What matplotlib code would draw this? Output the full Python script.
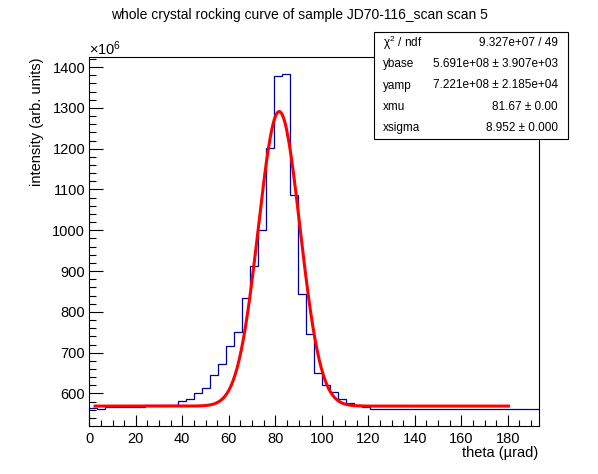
import numpy as np
import matplotlib
matplotlib.use("Agg")
import matplotlib.pyplot as plt
from matplotlib.patches import Rectangle
from matplotlib.ticker import MultipleLocator

plt.rcParams['font.family'] = ['Liberation Sans', 'DejaVu Sans']
plt.rcParams['mathtext.fontset'] = 'custom'
plt.rcParams['mathtext.rm'] = 'Liberation Sans'
plt.rcParams['mathtext.it'] = 'Liberation Sans'

# ---- data ----
bin_width = 3.45
n_bins = 56
counts = [564.7, 562.2, 565.7, 565.7, 568.0, 568.0, 568.0, 570.6, 570.6, 572.0,
          572.0, 580.4, 587.7, 600.7, 612.3, 644.9, 671.8, 716.0, 749.5, 832.9,
          912.8, 1001.0, 1200.6, 1378.0, 1382.5, 1085.4, 845.0, 747.0, 649.0, 622.0,
          603.0, 586.8, 577.0, 570.6, 565.7, 561.5, 560.8, 560.8, 560.8, 560.8,
          560.8, 560.8, 560.8, 560.8, 560.8, 560.8, 560.8, 560.8, 560.8, 560.8,
          560.8, 560.8, 560.8, 560.8, 560.8, 563.0]
# fit parameters (from stats box), in units of 1e6
ybase = 569.1
yamp = 722.1
xmu = 81.67
xsigma = 8.952
fit_range = (2.5, 180.3)

stats_rows = [("χ$^{2}$ / ndf", "9.327e+07 / 49"),
              ("ybase", "5.691e+08 ± 3.907e+03"),
              ("yamp", "7.221e+08 ± 2.185e+04"),
              ("xmu", "81.67 ± 0.00"),
              ("xsigma", "8.952 ± 0.000")]

title = "whole crystal rocking curve of sample JD70-116_scan scan 5"
xlabel = "theta (µrad)"
ylabel = "intensity (arb. units)"

W, H = 598, 474
fig = plt.figure(figsize=(W / 100, H / 100), dpi=100)
L, R, T, B = 89.3, 538.5, 56.7, 426.0
ax = fig.add_axes([L / W, 1 - B / H, (R - L) / W, (B - T) / H])

edges = np.arange(n_bins + 1) * bin_width
ax.stairs(counts, edges, color='#000099', lw=0.9, baseline=None, zorder=2)

xf = np.linspace(fit_range[0], fit_range[1], 400)
yf = ybase + yamp * np.exp(-0.5 * ((xf - xmu) / xsigma) ** 2)
ax.plot(xf, yf, color='#ff0000', lw=2.2, zorder=3)

ax.set_xlim(0, edges[-1])
ax.set_ylim(520.3, 1425.5)

ax.xaxis.set_major_locator(MultipleLocator(20))
ax.xaxis.set_minor_locator(MultipleLocator(5))
ax.yaxis.set_major_locator(MultipleLocator(100))
ax.yaxis.set_minor_locator(MultipleLocator(20))
ax.tick_params(axis='x', which='major', direction='in', length=8, width=0.8, labelsize=10.5, pad=4)
ax.tick_params(axis='x', which='minor', direction='in', length=4, width=0.8)
ax.tick_params(axis='y', which='major', direction='in', length=10, width=0.8, labelsize=10.5, pad=3)
ax.tick_params(axis='y', which='minor', direction='in', length=5, width=0.8)
for s in ax.spines.values():
    s.set_linewidth(0.8)

fig.text(0.5, 1 - 15 / H, title, ha='center', va='center', fontsize=10)
fig.text(R / W, 1 - 453 / H, xlabel, ha='right', va='center', fontsize=10.5)
fig.text(37 / W, 1 - 57 / H, ylabel, ha='center', va='top', rotation=90, fontsize=10.5)
fig.text(89 / W, 1 - 55 / H, r'$\times$10$^{6}$', ha='left', va='baseline', fontsize=10.5)

# stats box
bx0, by0, bx1, by1 = 374, 32, 568, 139
fig.patches.append(Rectangle((bx0 / W, 1 - by1 / H), (bx1 - bx0) / W, (by1 - by0) / H,
                             transform=fig.transFigure, facecolor='white',
                             edgecolor='black', lw=0.8, zorder=5))
rh = (by1 - by0) / len(stats_rows)
for i, (k, v) in enumerate(stats_rows):
    yc = by0 + rh * (i + 0.5)
    fig.text(383 / W, 1 - yc / H, k, ha='left', va='center', fontsize=8.5, zorder=6)
    fig.text(558 / W, 1 - yc / H, v, ha='right', va='center', fontsize=8.5, zorder=6)

fig.savefig("out.png", dpi=100)
